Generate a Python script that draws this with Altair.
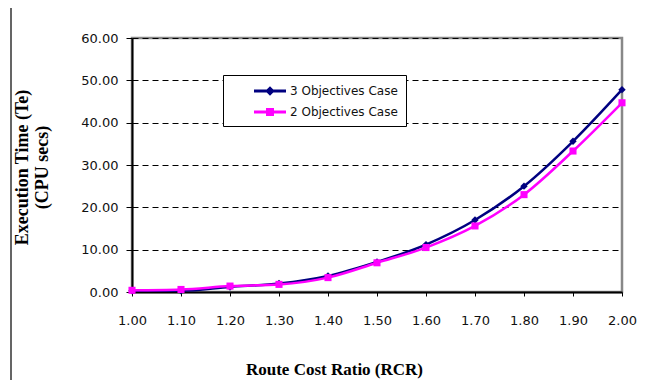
import altair as alt
import pandas as pd

rcr = [1.0, 1.1, 1.2, 1.3, 1.4, 1.5, 1.6, 1.7, 1.8, 1.9, 2.0]
obj3 = [0.3, 0.3, 1.2, 2.0, 3.8, 7.1, 11.2, 17.0, 25.0, 35.6, 47.8]
obj2 = [0.4, 0.6, 1.4, 1.8, 3.4, 6.9, 10.5, 15.6, 23.0, 33.3, 44.7]
series = ["3 Objectives Case", "2 Objectives Case"]
colors = ["#000080", "#FF00FF"]
x_ticks = rcr
y_ticks = [0, 10, 20, 30, 40, 50, 60]

rows = []
for i, x in enumerate(rcr):
    rows.append({"rcr": x, "te": obj3[i], "series": series[0], "order": 0})
    rows.append({"rcr": x, "te": obj2[i], "series": series[1], "order": 1})
df = pd.DataFrame(rows)

serif = "Liberation Serif"
sans = "DejaVu Sans"

diamond_path = "M-2,-0.19H2V0.19H-2Z M0,-0.6L0.6,0L0,0.6L-0.6,0Z"
square_path = "M-2,-0.19H2V0.19H-2Z M-0.5,-0.5H0.5V0.5H-0.5Z"

xscale = alt.Scale(domain=[1.0, 2.0], nice=False, zero=False)
yscale = alt.Scale(domain=[0, 60], nice=False)

x_enc = alt.X(
    "rcr:Q", scale=xscale,
    axis=alt.Axis(
        values=x_ticks, format=".2f", title="Route Cost Ratio (RCR)",
        grid=False, domainColor="black", domainWidth=2, tickColor="black",
        tickSize=4, labelPadding=18, labelFont=sans, labelFontSize=13,
        labelColor="#111", titleFont=serif, titleFontSize=17,
        titleFontWeight="bold", titleX=202, titleY=82,
        titleBaseline="alphabetic", labelFlush=False,
    ),
)
y_enc = alt.Y(
    "te:Q", scale=yscale,
    axis=alt.Axis(
        values=y_ticks, format=".2f",
        title=["Execution Time (Te)", "(CPU secs)"],
        grid=True, gridColor="black", gridDash=[6, 4], gridWidth=1,
        domainColor="black", domainWidth=2, tickColor="black", tickSize=6,
        labelPadding=8, labelFont=sans, labelFontSize=13, labelColor="#111",
        titleFont=serif, titleFontSize=18, titleFontWeight="bold",
        titleX=-119, titleY=129, titleBaseline="top", titleLineHeight=20,
        labelFlush=False,
    ),
)
xs = alt.X("rcr:Q", scale=xscale)
ys = alt.Y("te:Q", scale=yscale)

legend = alt.Legend(
    title=None, orient="none", legendX=91, legendY=37,
    strokeColor="black", fillColor="white", padding=8,
    labelFont=sans, labelFontSize=12, labelColor="#111", labelLimit=300,
    symbolSize=256, rowPadding=7, labelOffset=12, symbolOffset=31,
    symbolStrokeWidth=0, symbolOpacity=1,
    labelExpr="datum.label + '" + "\u00a0" * 3 + "'",
)

base = alt.Chart(df)

legend_layer = base.mark_point(filled=True, opacity=0).encode(
    x=x_enc, y=y_enc,
    color=alt.Color("series:N", scale=alt.Scale(domain=series, range=colors),
                    sort=series, legend=legend),
    shape=alt.Shape("series:N", scale=alt.Scale(domain=series, range=[diamond_path, square_path]),
                    sort=series, legend=legend),
)

line3 = base.transform_filter(alt.datum.order == 0).mark_line(
    strokeWidth=2.5, interpolate="monotone", color=colors[0]
).encode(x=xs, y=ys)
pts3 = base.transform_filter(alt.datum.order == 0).mark_point(
    shape="diamond", filled=True, size=55, opacity=1, color=colors[0]
).encode(x=xs, y=ys)
line2 = base.transform_filter(alt.datum.order == 1).mark_line(
    strokeWidth=2.5, interpolate="monotone", color=colors[1]
).encode(x=xs, y=ys)
pts2 = base.transform_filter(alt.datum.order == 1).mark_point(
    shape="square", filled=True, size=50, opacity=1, color=colors[1]
).encode(x=xs, y=ys)

frame = alt.Chart(alt.Data(values=[{"k": 1}])).mark_rect(
    fill=None, stroke="#333", strokeWidth=1.5, clip=False
).encode(x=alt.value(-121), x2=alt.value(700), y=alt.value(-31), y2=alt.value(500))

chart = alt.layer(frame, legend_layer, line3, pts3, line2, pts2).properties(
    width=490, height=254,
    autosize=alt.AutoSizeParams(type="none"),
    padding={"left": 124, "top": 30, "right": 15, "bottom": 88},
    background="white",
).configure_view(stroke="#888", strokeWidth=2.5)

chart.save("out.html", embed_options={"renderer": "svg", "actions": False})
